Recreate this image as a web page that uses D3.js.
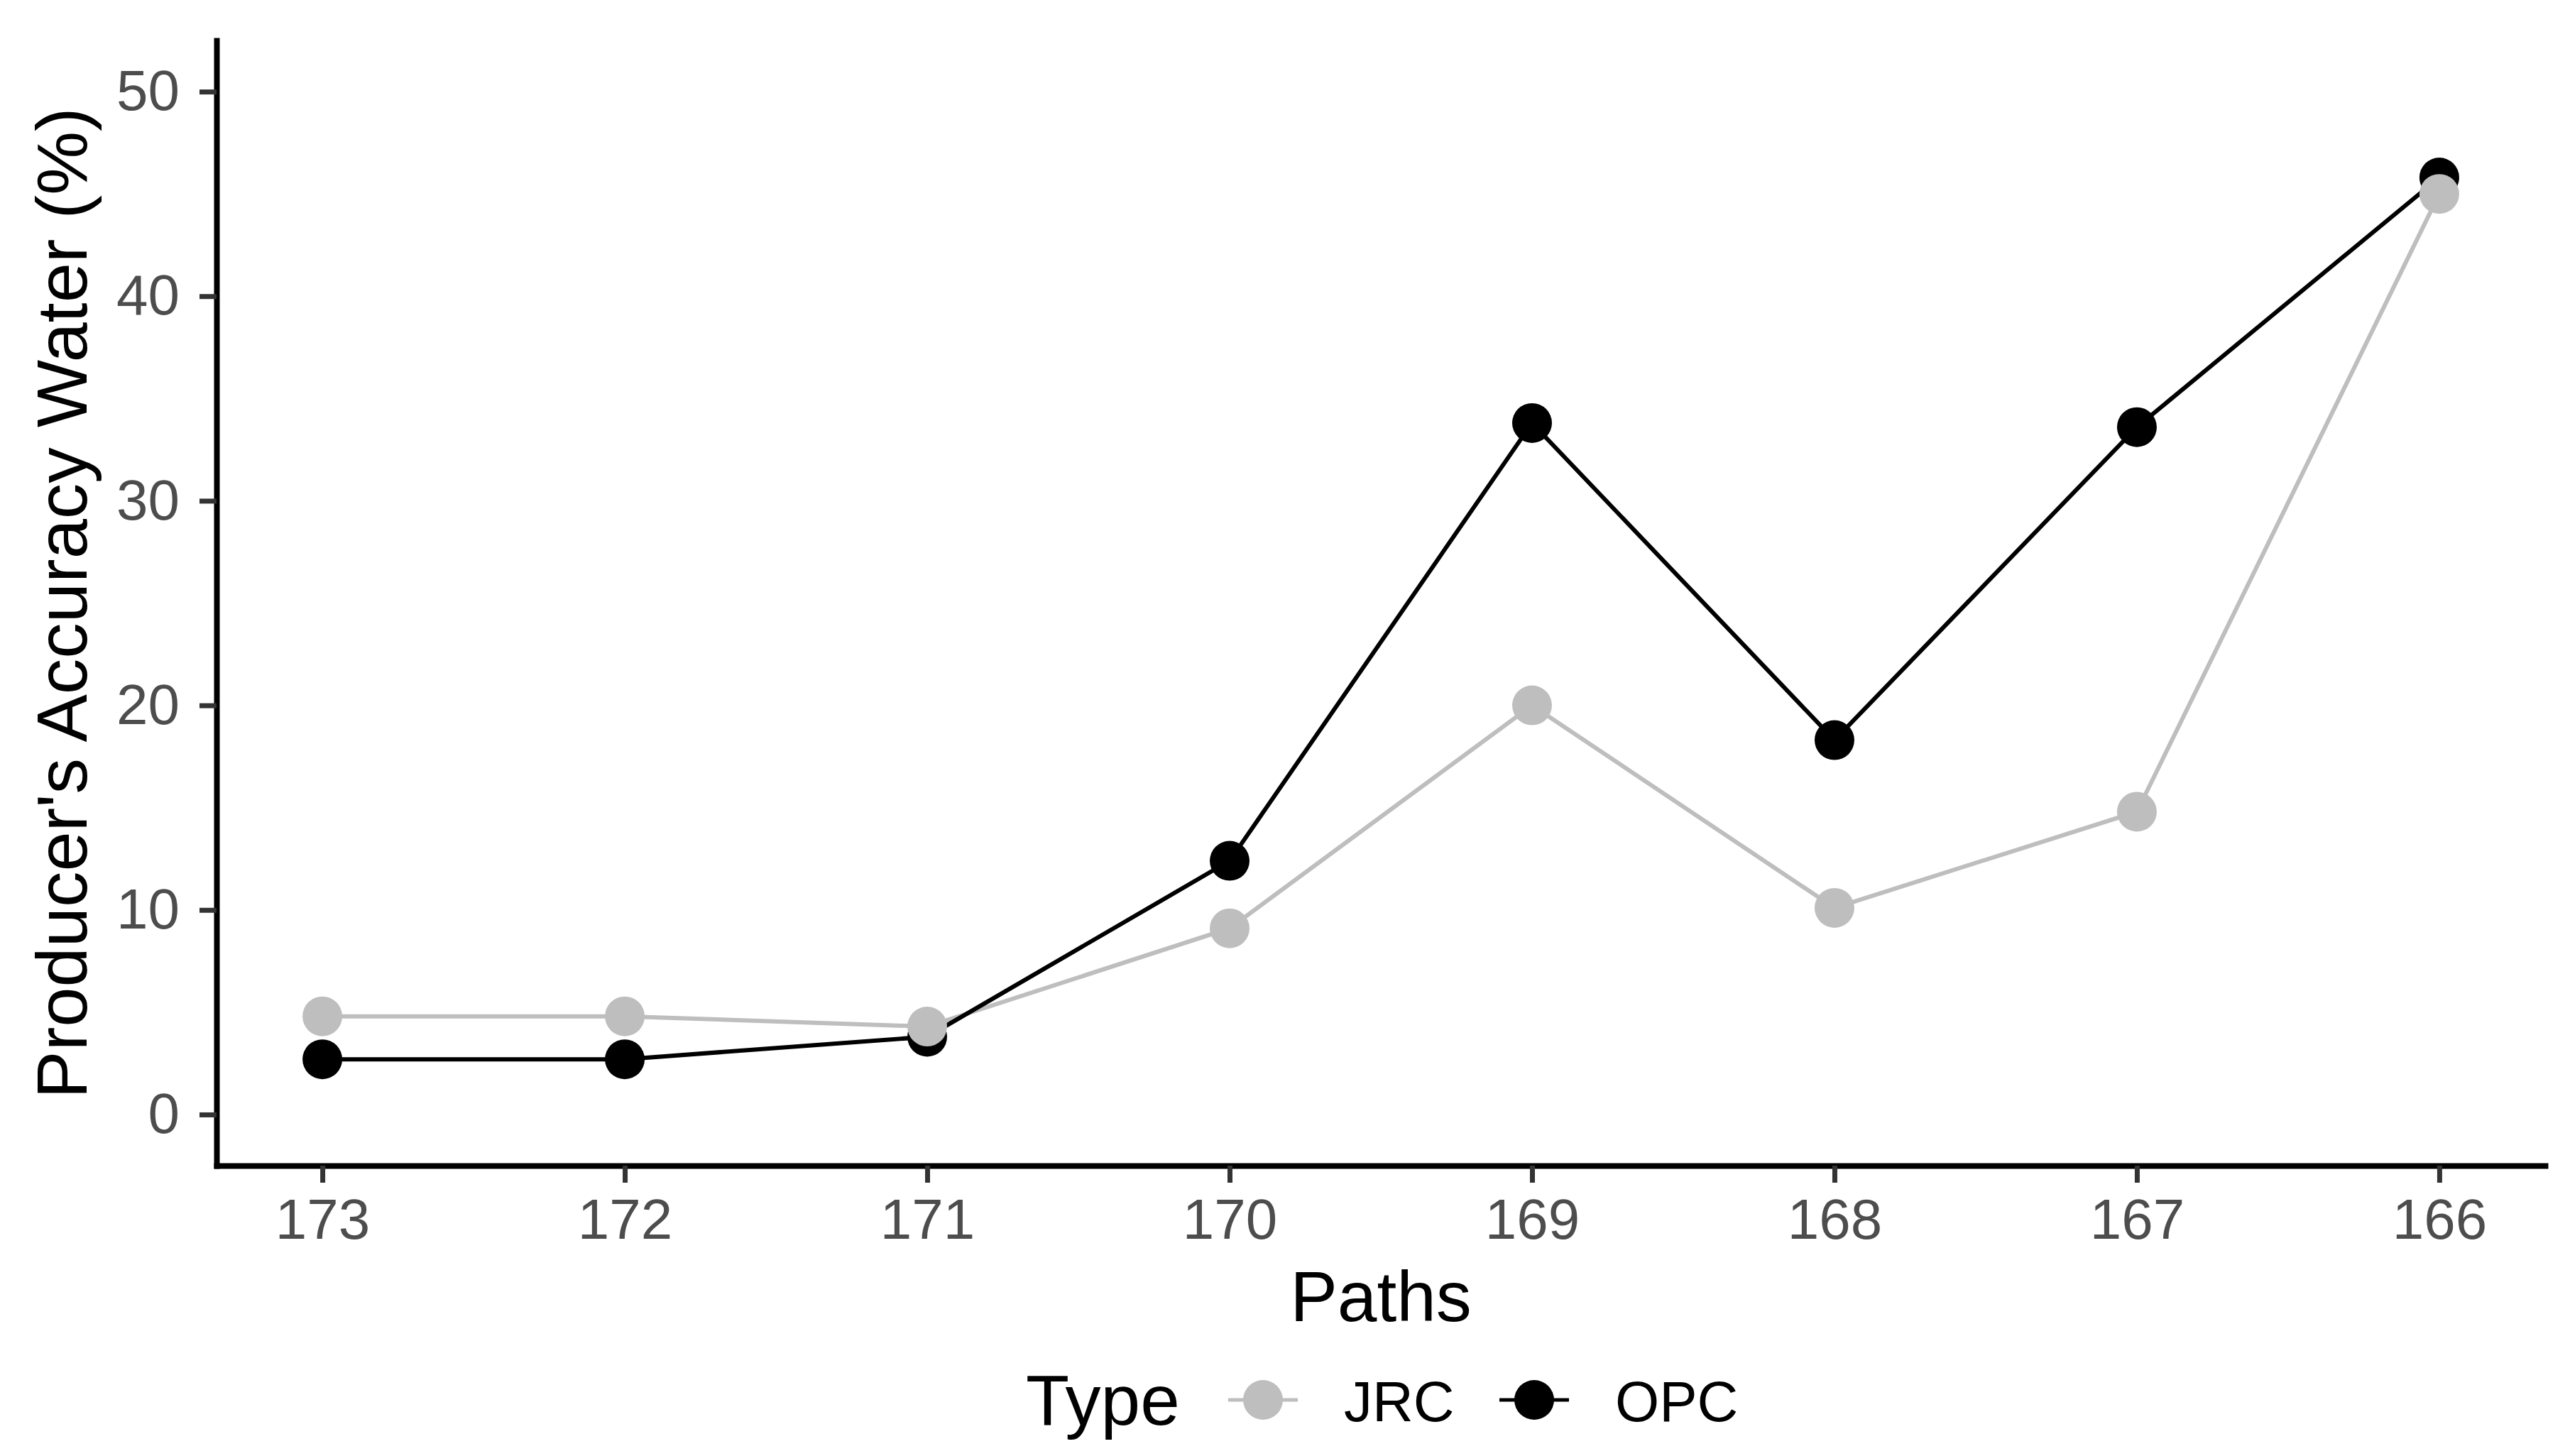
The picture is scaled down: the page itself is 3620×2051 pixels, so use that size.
<!DOCTYPE html>
<html>
<head>
<meta charset="utf-8">
<script src="https://cdn.jsdelivr.net/npm/d3@7"></script>
<style>
  body { margin: 0; background: #fff; }
  text { font-family: "Liberation Sans", Arial, sans-serif; }
</style>
</head>
<body>
<div id="chart"></div>
<script>
const paths = [173, 172, 171, 170, 169, 168, 167, 166];
const jrcValues = [4.8, 4.8, 4.3, 9.1, 20.0, 10.1, 14.8, 45.0];
const opcValues = [2.7, 2.7, 3.8, 12.4, 33.8, 18.3, 33.6, 45.8];
const yTicks = [0, 10, 20, 30, 40, 50];
const seriesNames = ["JRC", "OPC"];
const seriesColors = ["#bebebe", "#000000"];

const size = { width: 3620, height: 2051 };
const panel = { left: 305, right: 3585, top: 57, bottom: 1642 };
const pointRadius = 28;

const svg = d3.select("#chart")
    .append("svg")
    .attr("width", size.width)
    .attr("height", size.height);

const x = d3.scaleLinear()
    .domain([173.35, 165.65])
    .range([panel.left, panel.right]);

const y = d3.scaleLinear()
    .domain([-2.5, 52.5])
    .range([panel.bottom, panel.top]);

const series = [
    { name: seriesNames[0], color: seriesColors[0], values: jrcValues },
    { name: seriesNames[1], color: seriesColors[1], values: opcValues }
];

// lines
const line = d3.line()
    .x(d => x(d.path))
    .y(d => y(d.value));

series.forEach(s => {
    const pts = paths.map((p, i) => ({ path: p, value: s.values[i] }));
    svg.append("path")
        .datum(pts)
        .attr("fill", "none")
        .attr("stroke", s.color)
        .attr("stroke-width", 6)
        .attr("d", line);
});

// points (OPC first so JRC sits on top, like the original)
[series[1], series[0]].forEach(s => {
    svg.selectAll(null)
        .data(paths.map((p, i) => ({ path: p, value: s.values[i] })))
        .enter()
        .append("circle")
        .attr("cx", d => x(d.path))
        .attr("cy", d => y(d.value))
        .attr("r", pointRadius)
        .attr("fill", s.color);
});

// axes
const xAxis = svg.append("g")
    .attr("transform", `translate(0,${panel.bottom})`)
    .call(d3.axisBottom(x).tickValues(paths).tickFormat(d3.format("d"))
        .tickSize(24).tickSizeOuter(0).tickPadding(22));

const yAxis = svg.append("g")
    .attr("transform", `translate(${panel.left},0)`)
    .call(d3.axisLeft(y).tickValues(yTicks)
        .tickSize(24).tickSizeOuter(0).tickPadding(28));

[xAxis, yAxis].forEach(g => {
    g.select(".domain")
        .attr("stroke", "#000")
        .attr("stroke-width", 8)
        .attr("stroke-linecap", "square");
    g.selectAll(".tick line")
        .attr("stroke", "#333333")
        .attr("stroke-width", 7);
    g.selectAll(".tick text")
        .attr("fill", "#4d4d4d")
        .attr("font-size", 80);
});

// axis titles
svg.append("text")
    .attr("x", (panel.left + panel.right) / 2)
    .attr("y", 1861)
    .attr("text-anchor", "middle")
    .attr("font-size", 100)
    .attr("fill", "#000")
    .text("Paths");

svg.append("text")
    .attr("transform", `translate(122,${(panel.top + panel.bottom) / 2}) rotate(-90)`)
    .attr("text-anchor", "middle")
    .attr("font-size", 101)
    .attr("fill", "#000")
    .text("Producer's Accuracy Water (%)");

// legend
const legendY = 1972;
svg.append("text")
    .attr("x", 1445)
    .attr("y", 2007)
    .attr("font-size", 100)
    .attr("fill", "#000")
    .text("Type");

const keyStarts = [1730, 2112];
series.forEach((s, i) => {
    const k = svg.append("g").attr("transform", `translate(${keyStarts[i]},${legendY})`);
    k.append("line")
        .attr("x1", 0).attr("x2", 98)
        .attr("stroke", s.color)
        .attr("stroke-width", 5);
    k.append("circle")
        .attr("cx", 49)
        .attr("r", pointRadius)
        .attr("fill", s.color);
    k.append("text")
        .attr("x", 163)
        .attr("y", 30)
        .attr("font-size", 80)
        .attr("fill", "#000")
        .text(s.name);
});
</script>
</body>
</html>
